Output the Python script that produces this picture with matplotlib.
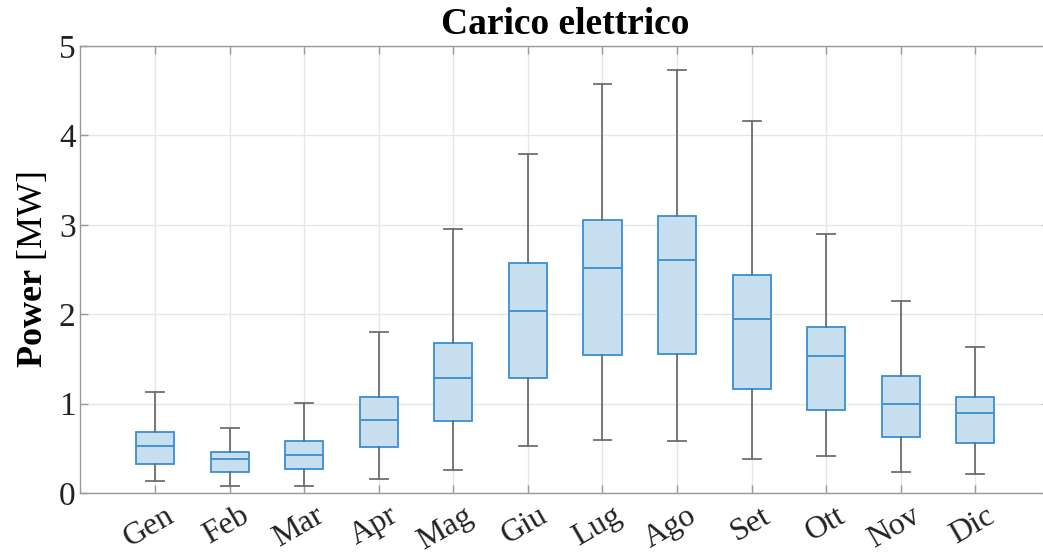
import matplotlib
matplotlib.use("Agg")
import matplotlib.pyplot as plt
import matplotlib.transforms as mtransforms

plt.rcParams['font.family'] = ['Liberation Serif', 'DejaVu Serif']
plt.rcParams['mathtext.fontset'] = 'custom'
plt.rcParams['mathtext.rm'] = 'Liberation Serif'
plt.rcParams['mathtext.bf'] = 'Liberation Serif:bold'

months = ['Gen', 'Feb', 'Mar', 'Apr', 'Mag', 'Giu', 'Lug', 'Ago', 'Set', 'Ott', 'Nov', 'Dic']
whisk_lo = [0.13, 0.08, 0.08, 0.16, 0.26, 0.53, 0.59, 0.58, 0.38, 0.41, 0.24, 0.21]
q1 = [0.33, 0.23, 0.27, 0.51, 0.81, 1.29, 1.54, 1.55, 1.16, 0.93, 0.63, 0.56]
med = [0.53, 0.38, 0.42, 0.82, 1.29, 2.04, 2.52, 2.61, 1.95, 1.53, 1.00, 0.89]
q3 = [0.68, 0.46, 0.58, 1.07, 1.68, 2.57, 3.05, 3.10, 2.44, 1.86, 1.31, 1.07]
whisk_hi = [1.13, 0.73, 1.01, 1.80, 2.95, 3.79, 4.57, 4.73, 4.16, 2.90, 2.15, 1.63]

blue = '#3a8fd2'
fill = '#c8dff0'
gray = '#6e6e6e'

stats = []
for i, m in enumerate(months):
    stats.append({'label': m, 'whislo': whisk_lo[i], 'q1': q1[i], 'med': med[i],
                  'q3': q3[i], 'whishi': whisk_hi[i], 'fliers': []})

fig = plt.figure(figsize=(10.43, 5.59), dpi=100)
ax = fig.add_axes([0.0771, 0.118, 0.9296, 0.7997])

ax.bxp(stats, positions=range(1, 13), widths=0.51, patch_artist=True, showfliers=False,
       boxprops=dict(facecolor=fill, edgecolor=blue, linewidth=1.3),
       medianprops=dict(color=blue, linewidth=1.3),
       whiskerprops=dict(color=gray, linewidth=1.3),
       capprops=dict(color=gray, linewidth=1.3),
       capwidths=0.24, zorder=3)

ax.set_xlim(0, 13)
ax.set_ylim(0, 5)
ax.set_yticks([0, 1, 2, 3, 4, 5])
ax.set_xticks(range(1, 13))
ax.set_xticklabels(months, rotation=30, ha='right', rotation_mode='anchor', fontsize=23)
ax.tick_params(axis='y', labelsize=24)
ax.tick_params(direction='in', length=6, color='#999999', top=True, right=True,
               labelcolor='#222222', width=1)
ax.tick_params(axis='x', pad=6)
# nudge the rotated month labels a bit to the right, like the original
shift = mtransforms.ScaledTranslation(10 / 100, 0, fig.dpi_scale_trans)
for lbl in ax.get_xticklabels():
    lbl.set_transform(lbl.get_transform() + shift)
ax.grid(True, color='#e6e6e6', linewidth=1, zorder=0)
ax.set_axisbelow(True)
for s in ax.spines.values():
    s.set_color('#999999')
    s.set_linewidth(1)

ax.set_title('Carico elettrico', fontsize=27, fontweight='bold', pad=9)
ax.set_ylabel(r'$\mathbf{Power}$ [MW]', fontsize=26, labelpad=6)

fig.savefig('out.png', dpi=100)
